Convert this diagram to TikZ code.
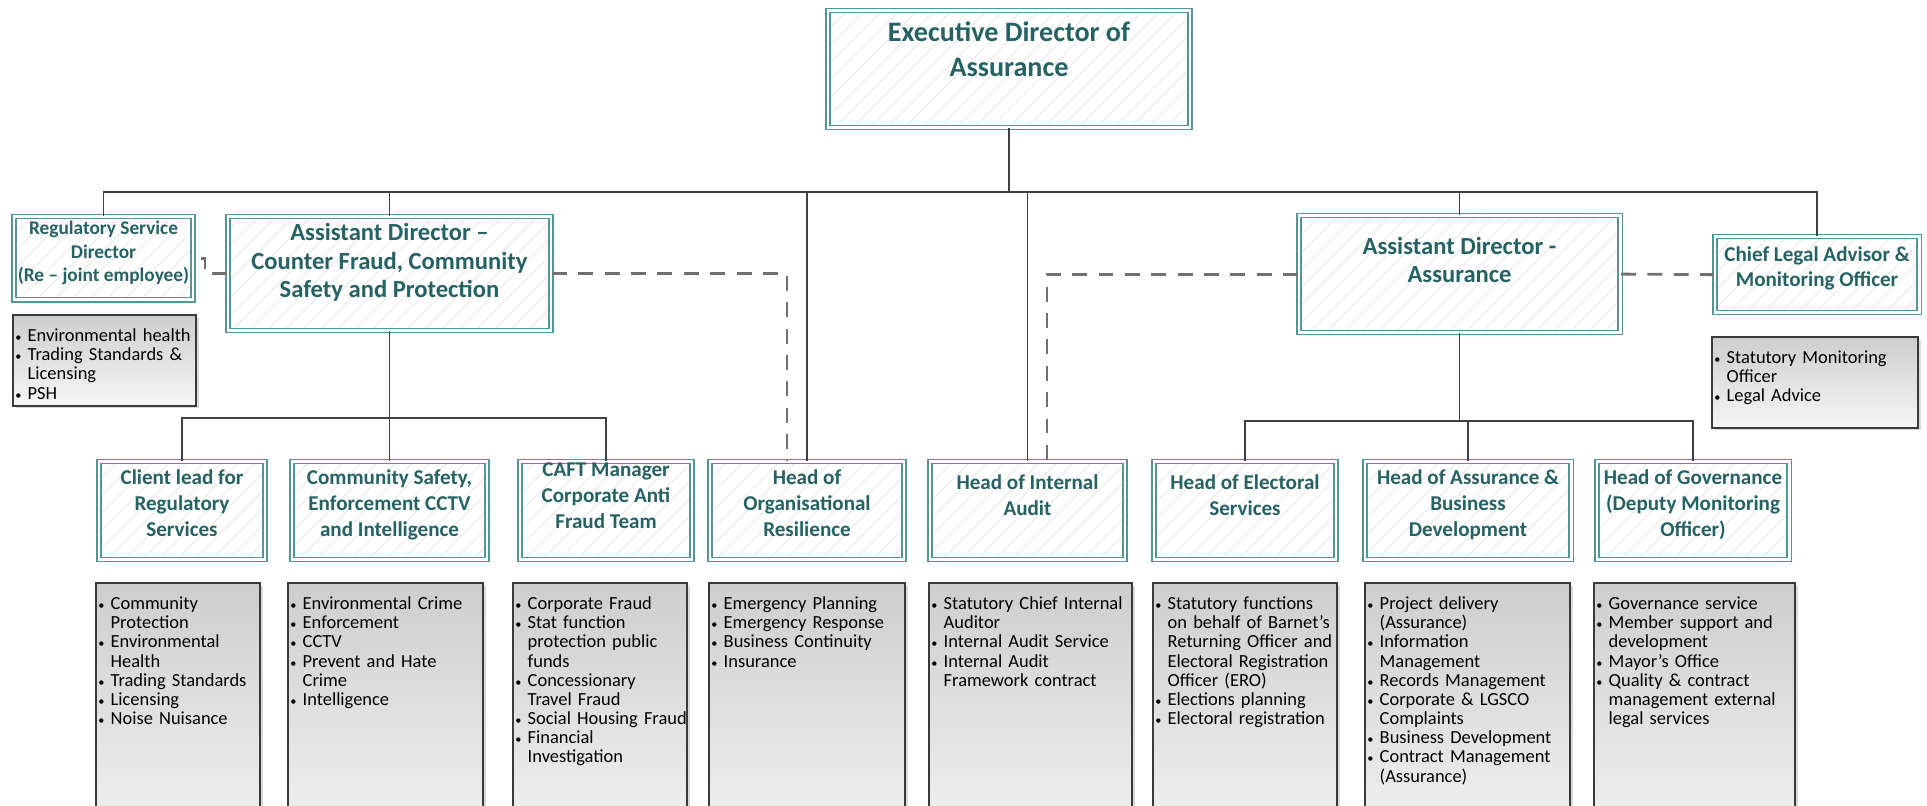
\documentclass[tikz,border=0pt]{standalone}
\usepackage{fontspec}
\setmainfont{Carlito}
\usepackage{xcolor}
\usepackage{tikz}
\usetikzlibrary{positioning,calc,patterns.meta,shadows}
\definecolor{AssTeal}{RGB}{84,150,150}
\definecolor{AssText}{RGB}{38,98,98}
\definecolor{LinkGray}{RGB}{64,64,64}
\definecolor{DashGray}{RGB}{112,112,112}
\definecolor{TaskEdge}{RGB}{58,58,58}
\definecolor{TaskTop}{RGB}{206,206,206}
\definecolor{TaskBot}{RGB}{246,246,246}
\newcommand{\itm}[1]{\hangindent=7pt\hangafter=1\rightskip=0pt plus 1fil minus 30pt\relax\makebox[7pt][l]{\scriptsize\textbullet}#1\par}

\begin{document}
\begin{tikzpicture}[
    % Style cho các loại khung
    role/.style={rectangle, draw=AssTeal, double=white, double distance=1.4pt, line width=0.9pt,
        drop shadow={shadow xshift=1.5pt, shadow yshift=-1.5pt, fill=AssTeal, opacity=0.25},
        preaction={fill=white}, pattern={Lines[angle=45,distance=7pt,line width=0.7pt]}, pattern color=black!7,
        text=AssText, align=center, inner xsep=0pt, inner ysep=0pt, anchor=north},
    headrole/.style={role, font=\fontsize{12}{14.8}\selectfont\bfseries},
    threeline/.style={text height=42.7pt, text depth=13.1pt},
    twoline/.style={text height=30.7pt, text depth=25.1pt},
    % Style danh sách
    task/.style={rectangle, draw=TaskEdge, line width=1.3pt, top color=TaskTop, bottom color=TaskBot,
        drop shadow={shadow xshift=1.5pt, shadow yshift=-1.5pt, opacity=0.3},
        anchor=north west, align=left, inner xsep=1.2pt, inner ysep=7.5pt, text height=7.5pt,
        font=\fontsize{10.5}{10.9}\selectfont},
    tasklong/.style={task, text depth=142pt},
    taskshort/.style={task, text depth=29pt},
    % Style đường nối
    link/.style={draw=LinkGray, line width=0.9pt},
    dashlink/.style={draw=DashGray, line width=1.6pt, dash pattern=on 8.5pt off 6.5pt}
]
    \useasboundingbox (0,0) rectangle (38.54,-16.12);

    % --- VẼ KHUNG ---
    % Cấp 1
    \node[role, font=\fontsize{16}{20}\selectfont\bfseries, minimum width=7.25cm, text height=37.6pt, text depth=29pt] (exec) at (20.18,-0.196) {Executive Director of\\Assurance};

    % Cấp 2
    \node[role, font=\fontsize{11}{13.6}\selectfont\bfseries, minimum width=3.59cm, text height=37.2pt, text depth=10.1pt] (reg) at (2.07,-4.316) {Regulatory Service\\Director\\(Re – joint employee)};
    \node[role, font=\fontsize{14}{16.2}\selectfont\bfseries, minimum width=6.47cm, text height=46.1pt, text depth=18.8pt] (adcf) at (7.79,-4.316) {Assistant Director –\\Counter Fraud, Community\\Safety and Protection};
    \node[role, font=\fontsize{14}{16}\selectfont\bfseries, minimum width=6.43cm, text height=38.2pt, text depth=28.4pt] (adas) at (29.19,-4.296) {Assistant Director -\\Assurance};
    \node[role, font=\fontsize{12}{14.2}\selectfont\bfseries, minimum width=4.09cm, text height=28.4pt, text depth=14.9pt] (chief) at (36.34,-4.716) {Chief Legal Advisor \&\\Monitoring Officer};

    % Cấp 3
    \node[headrole, threeline, minimum width=3.33cm] (client) at (3.64,-9.216) {Client lead for\\Regulatory\\Services};
    \node[headrole, threeline, minimum width=3.91cm] (comm) at (7.79,-9.216) {Community Safety,\\Enforcement CCTV\\and Intelligence};
    \node[headrole, text height=38.2pt, text depth=17.6pt, minimum width=3.45cm] (caft) at (12.12,-9.216) {CAFT Manager\\Corporate Anti\\Fraud Team};
    \node[headrole, threeline, minimum width=3.89cm] (org) at (16.14,-9.216) {Head of\\Organisational\\Resilience};
    \node[headrole, twoline, minimum width=3.91cm] (audit) at (20.55,-9.216) {Head of Internal\\Audit};
    \node[headrole, twoline, minimum width=3.65cm] (elect) at (24.90,-9.216) {Head of Electoral\\Services};
    \node[headrole, threeline, minimum width=4.13cm] (asbd) at (29.36,-9.216) {Head of Assurance \&\\Business\\Development};
    \node[headrole, threeline, minimum width=3.85cm] (gov) at (33.86,-9.216) {Head of Governance\\(Deputy Monitoring\\Officer)};

    % Danh sách nhiệm vụ
    \node[taskshort, text width=3.57cm] (regjob) at (0.243,-6.283) {\itm{Environmental health}\itm{Trading Standards \&\newline Licensing}\itm{PSH}};
    \node[taskshort, text width=4.03cm] (chiefjob) at (34.223,-6.723) {\itm{Statutory Monitoring\newline Officer}\itm{Legal Advice}};

    \node[tasklong, text width=3.19cm] (clientjob) at (1.903,-11.643) {\itm{Community\newline Protection}\itm{Environmental\newline Health}\itm{Trading Standards}\itm{Licensing}\itm{Noise Nuisance}};
    \node[tasklong, text width=3.81cm] (commjob) at (5.743,-11.643) {\itm{Environmental Crime}\itm{Enforcement}\itm{CCTV}\itm{Prevent and Hate\newline Crime}\itm{Intelligence}};
    \node[tasklong, text width=3.39cm] (caftjob) at (10.243,-11.643) {\itm{Corporate Fraud}\itm{Stat function\newline protection public\newline funds}\itm{Concessionary\newline Travel Fraud}\itm{Social Housing Fraud}\itm{Financial\newline Investigation}};
    \node[tasklong, text width=3.83cm] (orgjob) at (14.163,-11.643) {\itm{Emergency Planning}\itm{Emergency Response}\itm{Business Continuity}\itm{Insurance}};
    \node[tasklong, text width=3.97cm] (auditjob) at (18.563,-11.643) {\itm{Statutory Chief Internal\newline Auditor}\itm{Internal Audit Service}\itm{Internal Audit\newline Framework contract}};
    \node[tasklong, text width=3.59cm] (electjob) at (23.043,-11.643) {\itm{Statutory functions\newline on behalf of Barnet’s\newline Returning Officer and\newline Electoral Registration\newline Officer (ERO)}\itm{Elections planning}\itm{Electoral registration}};
    \node[tasklong, text width=4.01cm] (asbdjob) at (27.283,-11.643) {\itm{Project delivery\newline (Assurance)}\itm{Information\newline Management}\itm{Records Management}\itm{Corporate \& LGSCO\newline Complaints}\itm{Business Development}\itm{Contract Management\newline (Assurance)}};
    \node[tasklong, text width=3.93cm] (govjob) at (31.863,-11.643) {\itm{Governance service}\itm{Member support and\newline development}\itm{Mayor’s Office}\itm{Quality \& contract\newline management external\newline legal services}};

    % --- VẼ ĐƯỜNG NỐI ---
    \coordinate (bus) at (20.18,-3.84);
    \coordinate (cfbus) at (7.79,-8.36);
    \coordinate (asbus) at (29.19,-8.42);

    % Đường thường
    \draw[link] (exec.south) -- (bus);
    \draw[link] (reg.north) |- (bus) -| (chief.north);
    \draw[link] (adcf.north) -- (adcf.north |- bus);
    \draw[link] (org.north) -- (org.north |- bus);
    \draw[link] (audit.north) -- (audit.north |- bus);
    \draw[link] (adas.north) -- (adas.north |- bus);

    \draw[link] (adcf.south) -- (comm.north);
    \draw[link] (client.north) |- (cfbus) -| (caft.north);

    \draw[link] (adas.south) -- (asbus);
    \draw[link] (elect.north) |- (asbus) -| (gov.north);
    \draw[link] (asbd.north) -- (asbd.north |- asbus);

    % Đường nét đứt
    \draw[dashlink] (adcf.west) -| ([xshift=0.22cm]reg.east) -- (reg.east);
    \draw[dashlink] (adcf.east) -| ([xshift=-0.4cm]org.north);
    \draw[dashlink] (adas.west) -| ([xshift=0.39cm]audit.north);
    \draw[dashlink] (adas.east) -- (chief.west);

\end{tikzpicture}
\end{document}
